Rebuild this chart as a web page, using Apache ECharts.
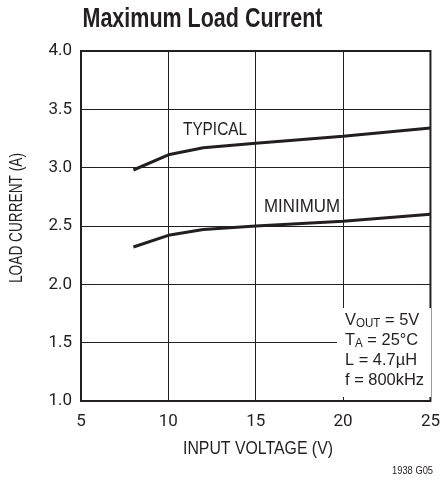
<!DOCTYPE html>
<html><head><meta charset="utf-8">
<script src="https://cdn.jsdelivr.net/npm/echarts@6/dist/echarts.min.js"></script>
<style>html,body{margin:0;padding:0;background:#fff}#c{width:443px;height:487px}</style>
</head><body><div id="c"></div>
<script>
var FONT = '"Liberation Sans", Arial, Helvetica, sans-serif';
var TICKFONT = 'Roboto, "Liberation Sans", sans-serif';
var inputVoltage = [8, 10, 12, 15, 20, 25];
var typical = [2.98, 3.11, 3.17, 3.21, 3.27, 3.34];
var minimum = [2.32, 2.42, 2.47, 2.50, 2.54, 2.60];
var xTicks = [5, 10, 15, 20, 25];
var yTicks = [1.0, 1.5, 2.0, 2.5, 3.0, 3.5, 4.0];

function pairs(xs, ys){ return xs.map(function(x,i){return [x, ys[i]];}); }
var ctx = document.createElement('canvas').getContext('2d');
function measure(text, font){ ctx.font = font; return ctx.measureText(text).width; }
function fit(text, font, w){ return w / measure(text, font); }
var ink = '#231f20';

var titleFont = 'bold 28px ' + FONT;
var labFont = '18px ' + FONT;
var labScale = fit('TYPICAL', labFont, 64);
var noteFont = '17px ' + FONT;
var noteScale = fit('f = 800kHz', noteFont, 79);
var subFont = '12px ' + FONT;

function txt(s, x, y, font, sc, opts){
  opts = opts || {};
  return {type: 'text', x: x, y: y, scaleX: sc, rotation: opts.rotation || 0, z: 11,
    style: {text: s, font: font, fill: ink, align: opts.align || 'left', verticalAlign: 'middle'}};
}
var g = [];
g.push({type: 'rect', shape: {x: 337, y: 308, width: 94, height: 89}, style: {fill: '#fff'}, z: 10});
g.push(txt('Maximum Load Current', 82.5, 19.5, titleFont, fit('Maximum Load Current', titleFont, 240)));
g.push(txt('TYPICAL', 183, 130, labFont, labScale));
g.push(txt('MINIMUM', 264, 207.5, labFont, fit('MINIMUM', labFont, 76)));
g.push(txt('INPUT VOLTAGE (V)', 258, 449, labFont, fit('INPUT VOLTAGE (V)', labFont, 150), {align: 'center'}));
g.push(txt('LOAD CURRENT (A)', 17.5, 218, labFont, fit('LOAD CURRENT (A)', labFont, 130), {align: 'center', rotation: Math.PI/2}));
var nx = 345, vw, sw;
vw = measure('V', noteFont) * noteScale;
sw = measure('OUT', subFont) * noteScale;
g.push(txt('V', nx, 320, noteFont, noteScale));
g.push(txt('OUT', nx + vw, 324, subFont, noteScale));
g.push(txt(' = 5V', nx + vw + sw, 320, noteFont, noteScale));
vw = measure('T', noteFont) * noteScale;
sw = measure('A', subFont) * noteScale;
g.push(txt('T', nx, 340, noteFont, noteScale));
g.push(txt('A', nx + vw, 344, subFont, noteScale));
g.push(txt(' = 25°C', nx + vw + sw, 340, noteFont, noteScale));
g.push(txt('L = 4.7µH', nx, 360, noteFont, noteScale));
g.push(txt('f = 800kHz', nx, 380, noteFont, noteScale));
g.push(txt('1938 G05', 392, 471, '11px ' + FONT, 0.85));

var chart = echarts.init(document.getElementById('c'));
chart.setOption({
  animation: false,
  grid: {left: 81, right: 10, top: 51, bottom: 86, show: true, borderColor: ink, borderWidth: 2, backgroundColor: 'transparent'},
  xAxis: {type: 'value', min: 5, max: 25, interval: 5,
    axisLine: {show: false}, axisTick: {show: false},
    axisLabel: {fontFamily: TICKFONT, fontSize: 17, color: ink, margin: 12,
      formatter: function(v){return xTicks.indexOf(v) >= 0 ? String(v) : '';}},
    splitLine: {show: true, lineStyle: {color: ink, width: 1}}},
  yAxis: {type: 'value', min: 1, max: 4, interval: 0.5,
    axisLine: {show: false}, axisTick: {show: false},
    axisLabel: {fontFamily: TICKFONT, fontSize: 17, color: ink, margin: 9,
      formatter: function(v){return v.toFixed(1);}},
    splitLine: {show: true, lineStyle: {color: ink, width: 1}}},
  series: [
    {type: 'line', name: 'TYPICAL', data: pairs(inputVoltage, typical), symbol: 'none', lineStyle: {color: ink, width: 3}, z: 5},
    {type: 'line', name: 'MINIMUM', data: pairs(inputVoltage, minimum), symbol: 'none', lineStyle: {color: ink, width: 3}, z: 5}
  ],
  graphic: g
});
</script></body></html>
